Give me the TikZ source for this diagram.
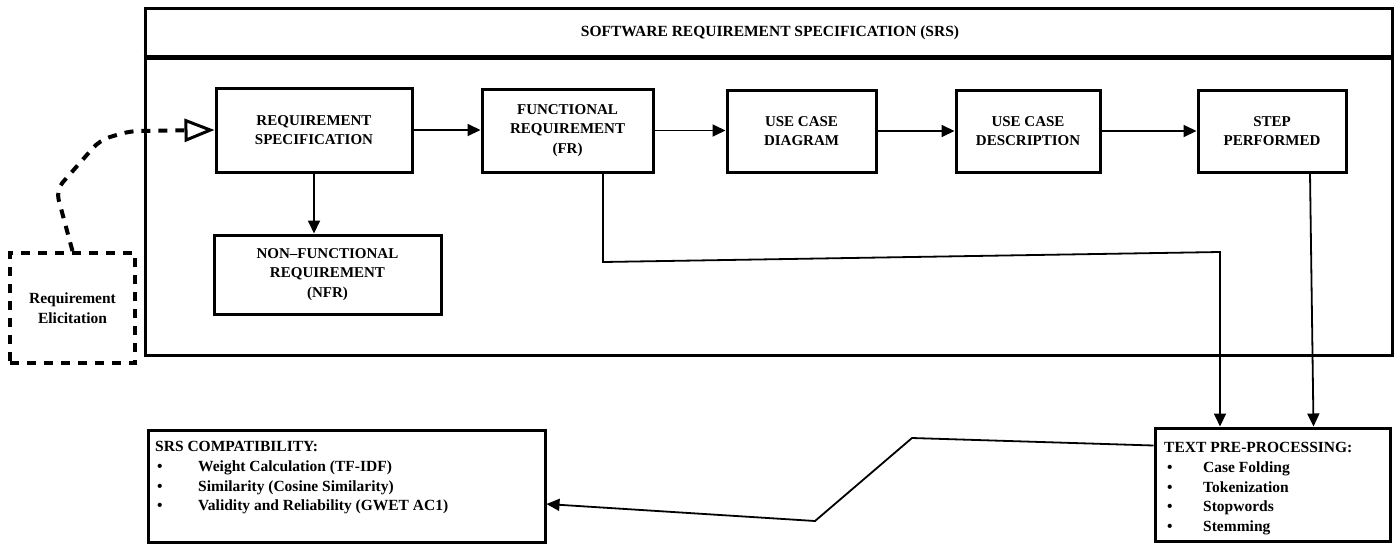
\documentclass[tikz,border=0pt]{standalone}
\usepackage{fontspec}
\setmainfont{Liberation Serif}
\usetikzlibrary{arrows.meta}
\begin{document}
\begin{tikzpicture}[x=1pt,y=-1pt,
  box/.style={draw,line width=3pt,align=center,inner sep=0pt,
    font=\bfseries\fontsize{15}{19.5}\selectfont},
  conn/.style={line width=1.8pt,-{Triangle[length=13pt,width=12pt]}},
  dashy/.style={line width=4pt,dash pattern=on 9pt off 8pt},
  listtext/.style={align=left,inner sep=0pt,anchor=north west,
    font=\bfseries\fontsize{15.5}{19.8}\selectfont}]
\useasboundingbox (0,0) rectangle (1396,544);

% outer SRS frame
\node[draw,line width=3pt,inner sep=0pt,minimum width=1247pt,minimum height=347pt] (srs) at (768.5,181.5) {};
\draw[line width=5pt] ([yshift=-51pt]srs.north west) -- ([yshift=-51pt]srs.north east);
\node[font=\bfseries\fontsize{15.5}{18}\selectfont] (hdr) at (770,33) {SOFTWARE REQUIREMENT SPECIFICATION (SRS)};

% process boxes
\node[box,minimum width=196pt,minimum height=84pt] (rs) at (314,130) {REQUIREMENT\\SPECIFICATION};
\node[box,minimum width=171pt,minimum height=83pt] (fr) at (567.5,130.5) {FUNCTIONAL\\REQUIREMENT\\(FR)};
\node[box,minimum width=149pt,minimum height=82pt] (ucd) at (801.5,131) {USE CASE\\DIAGRAM};
\node[box,minimum width=144pt,minimum height=82pt] (ucs) at (1028,131) {USE CASE\\DESCRIPTION};
\node[box,minimum width=148pt,minimum height=82pt] (sp) at (1272,131) {STEP\\PERFORMED};
\node[box,minimum width=227pt,minimum height=79pt] (nfr) at (327.5,274.5) {NON--FUNCTIONAL\\REQUIREMENT\\(NFR)};

% requirement elicitation
\node[draw,dashy,minimum width=125pt,minimum height=110pt,align=center,inner sep=0pt,
  font=\bfseries\fontsize{15.5}{20}\selectfont] (re) at (72.5,308) {Requirement\\Elicitation};
\draw[dashy,rounded corners=10pt,-{Triangle[open,length=30pt,width=23pt,line width=3pt]}]
  (re.north) -- (56,190) -- (100,140) -- (130,131) -- (rs.west);

% bottom boxes
\node[draw,line width=3pt,inner sep=0pt,minimum width=235pt,minimum height=113pt] (tpp) at (1272.5,484.5) {};
\node[listtext] (tpptxt) at (1164,442) {TEXT PRE-PROCESSING:\\
  \hspace*{3pt}\makebox[36pt][l]{\textbullet}Case Folding\\
  \hspace*{3pt}\makebox[36pt][l]{\textbullet}Tokenization\\
  \hspace*{3pt}\makebox[36pt][l]{\textbullet}Stopwords\\
  \hspace*{3pt}\makebox[36pt][l]{\textbullet}Stemming};
\node[draw,line width=3pt,inner sep=0pt,minimum width=397pt,minimum height=112pt] (src) at (346.5,486) {};
\node[listtext] (srctxt) at (155,441) {SRS COMPATIBILITY:\\
  \hspace*{2pt}\makebox[41pt][l]{\textbullet}Weight Calculation (TF-IDF)\\
  \hspace*{2pt}\makebox[41pt][l]{\textbullet}Similarity (Cosine Similarity)\\
  \hspace*{2pt}\makebox[41pt][l]{\textbullet}Validity and Reliability (GWET AC1)};

% connectors
\draw[conn] (rs.east) -- (fr.west |- rs.east);
\draw[conn] (fr.east) -- (ucd.west |- fr.east);
\draw[conn] (ucd.east) -- (ucs.west);
\draw[conn] (ucs.east) -- (sp.west);
\draw[conn] (rs.south) -- (nfr.north -| rs.south);
\coordinate (b1) at (603,262);
\coordinate (b2) at (1220,252);
\draw[conn] (fr.south -| b1) -- (b1) -- (b2) -- (b2 |- tpp.north);
\draw[conn] ([xshift=38pt]sp.south) -- ([xshift=41pt]tpp.north);
\coordinate (c1) at (912,438);
\coordinate (c2) at (815,521);
\draw[conn] ([yshift=-19pt]tpp.north west) -- (c1) -- (c2) -- ([yshift=-18pt]src.east);
\end{tikzpicture}
\end{document}
